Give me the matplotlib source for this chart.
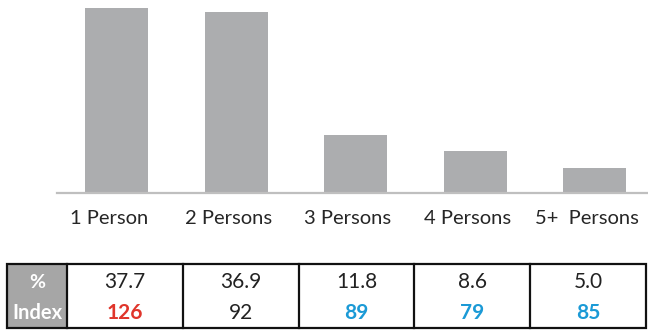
import matplotlib
matplotlib.use("Agg")
import matplotlib.pyplot as plt
import matplotlib.transforms as mtransforms
from matplotlib.patches import Rectangle

categories = ["1 Person", "2 Persons", "3 Persons", "4 Persons", "5+  Persons"]
pct = [37.7, 36.9, 11.8, 8.6, 5.0]
pct_labels = ["37.7", "36.9", "11.8", "8.6", "5.0"]
index_vals = [126, 92, 89, 79, 85]
index_colors = ["#e0352b", "#222222", "#1b9ad6", "#1b9ad6", "#1b9ad6"]
index_bold = [True, False, True, True, True]
row_headers = ["%", "Index"]

plt.rcParams['font.family'] = ['Lato', 'DejaVu Sans']

W, H = 648, 330
fig = plt.figure(figsize=(W / 100, H / 100), dpi=100)

# ---- bar chart ----
ax = fig.add_axes([57 / W, (H - 193) / H, (W - 57) / W, 193 / H])
x = list(range(len(categories)))
ax.bar(x, pct, width=0.527, color="#acadaf", zorder=2)
ax.set_xlim(-0.5, -0.5 + 591 / 119.5)
ax.set_ylim(0, 39.33)
for s in ["top", "right", "left"]:
    ax.spines[s].set_visible(False)
ax.spines["bottom"].set_color("#bfbfbf")
ax.spines["bottom"].set_linewidth(1.6)
ax.set_yticks([])
ax.set_xticks(x)
ax.set_xticklabels(categories, fontsize=14.5, color="#262626")
ax.tick_params(axis="x", length=0, pad=12)
offset = mtransforms.ScaledTranslation(-8 / 100, 0, fig.dpi_scale_trans)
for lbl in ax.get_xticklabels():
    lbl.set_transform(lbl.get_transform() + offset)

# ---- table ----
tl, tr, tt, tb = 7, 646, 264, 328
tax = fig.add_axes([0, 0, 1, 1])
tax.set_xlim(0, W)
tax.set_ylim(H, 0)
tax.axis("off")
hdr_w = 60
col_w = (tr - tl - hdr_w) / len(categories)
tax.add_patch(Rectangle((tl, tt), hdr_w, tb - tt, facecolor="#a6a6a6", edgecolor="none"))
tax.add_patch(Rectangle((tl, tt), tr - tl, tb - tt, facecolor="none", edgecolor="#111111", linewidth=1.6))
for i in range(len(categories)):
    xx = tl + hdr_w + i * col_w
    tax.plot([xx, xx], [tt, tb], color="#111111", linewidth=1.6)
row_y = [282, 313]
hc = tl + hdr_w / 2
tax.text(hc, row_y[0], row_headers[0], ha="center", va="center", color="white", fontsize=14, fontweight="bold")
tax.text(hc, row_y[1], row_headers[1], ha="center", va="center", color="white", fontsize=14.5, fontweight="bold")
for i in range(len(categories)):
    cx = tl + hdr_w + (i + 0.5) * col_w
    tax.text(cx, row_y[0], pct_labels[i], ha="center", va="center", color="#222222", fontsize=15)
    tax.text(cx, row_y[1], str(index_vals[i]), ha="center", va="center", color=index_colors[i],
             fontsize=15, fontweight="bold" if index_bold[i] else "normal")

fig.savefig("out.png", dpi=100)
